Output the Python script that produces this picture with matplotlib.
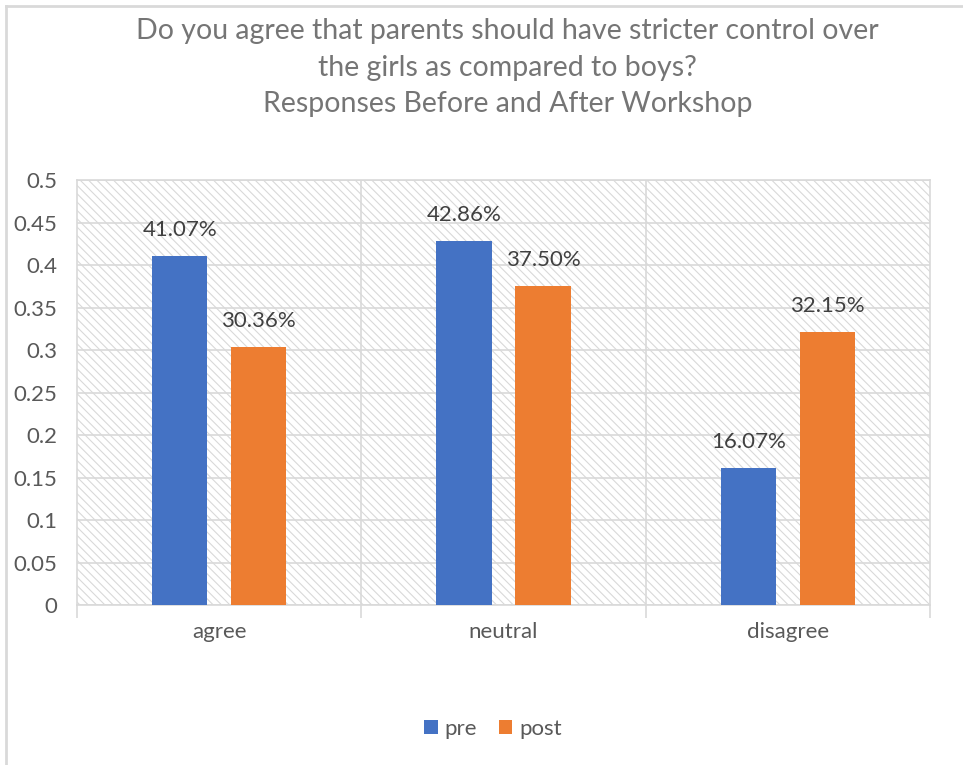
import numpy as np
import matplotlib.pyplot as plt
from matplotlib.patches import Rectangle
from matplotlib.lines import Line2D

# data
categories = ['agree', 'neutral', 'disagree']
pre = [0.4107, 0.4286, 0.1607]
post = [0.3036, 0.3750, 0.3215]
pre_labels = ['41.07%', '42.86%', '16.07%']
post_labels = ['30.36%', '37.50%', '32.15%']
yticks = [0, 0.05, 0.1, 0.15, 0.2, 0.25, 0.3, 0.35, 0.4, 0.45, 0.5]

plt.rcParams['font.family'] = ['Lato', 'DejaVu Sans']
plt.rcParams['hatch.linewidth'] = 0.8

fig = plt.figure(figsize=(9.63, 7.65), dpi=100)
ax = fig.add_axes([0.080, 0.209, 0.8857, 0.5557])

grey = '#d9d9d9'
txt = '#595959'

# hatched plot area
ax.add_patch(Rectangle((0, 0), 1, 1, transform=ax.transAxes, facecolor='white',
                       edgecolor='#d9d9d9', hatch='\\\\\\\\', lw=0, zorder=0))

x = np.arange(len(categories))
w = 0.194
off = 0.139
ax.bar(x - off, pre, w, color='#4472c4', zorder=3, label='pre')
ax.bar(x + off, post, w, color='#ed7d31', zorder=3, label='post')

for xi, v, s in zip(x - off, pre, pre_labels):
    ax.text(xi, v + 0.019, s, ha='center', va='bottom', fontsize=16, color='#404040', zorder=4)
for xi, v, s in zip(x + off, post, post_labels):
    ax.text(xi, v + 0.019, s, ha='center', va='bottom', fontsize=16, color='#404040', zorder=4)

ax.set_xlim(-0.5, 2.5)
ax.set_ylim(0, 0.5)
ax.set_yticks(yticks)
ax.set_yticklabels(['0', '0.05', '0.1', '0.15', '0.2', '0.25', '0.3', '0.35', '0.4', '0.45', '0.5'])
ax.yaxis.grid(True, color=grey, lw=1.2, zorder=1)
for b in [0.5, 1.5]:
    ax.axvline(b, color=grey, lw=1.2, zorder=1)
ax.set_axisbelow(True)

ax.set_xticks(x)
ax.set_xticklabels(categories)
ax.set_xticks([-0.5, 0.5, 1.5, 2.5], minor=True)
ax.tick_params(axis='x', which='major', length=0, pad=12, labelsize=16, labelcolor=txt)
ax.tick_params(axis='x', which='minor', length=9, width=1.2, color=grey)
ax.tick_params(axis='y', length=0, pad=14, labelsize=16, labelcolor=txt)
for sp in ax.spines.values():
    sp.set_color(grey)
    sp.set_linewidth(1.2)

fig.text(0.527, 0.977, 'Do you agree that parents should have stricter control over\n'
         'the girls as compared to boys?\nResponses Before and After Workshop',
         ha='center', va='top', fontsize=20.5, color='#757575', linespacing=1.52)

ax.legend(loc='center', bbox_to_anchor=(0.512, 0.047), bbox_transform=fig.transFigure,
          ncol=2, frameon=False, fontsize=16, labelcolor=txt, handlelength=0.6,
          handleheight=0.6, handletextpad=0.3, columnspacing=1.0)

# chart border (top and left edges visible)
fig.add_artist(Line2D([6 / 963, 1], [1 - 6 / 765, 1 - 6 / 765], transform=fig.transFigure,
                      color=grey, lw=2))
fig.add_artist(Line2D([6 / 963, 6 / 963], [0, 1 - 6 / 765], transform=fig.transFigure,
                      color=grey, lw=2))

fig.savefig('out.png', dpi=100)
